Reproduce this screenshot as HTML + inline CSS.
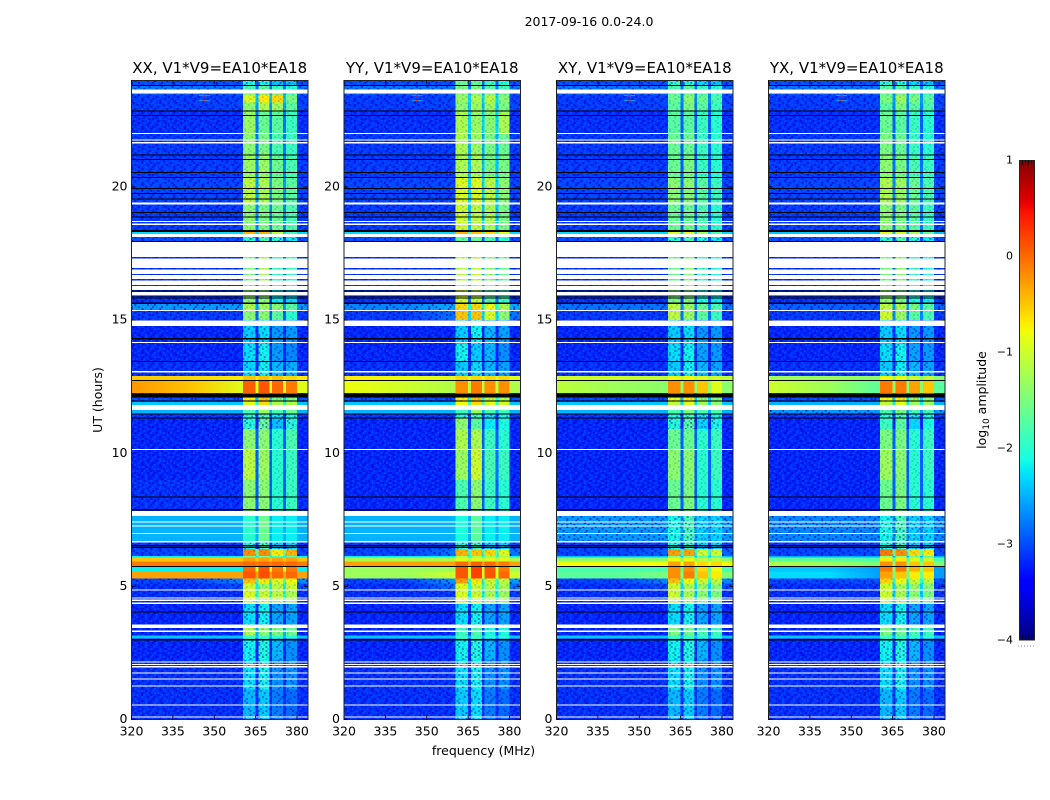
<!DOCTYPE html>
<html lang="en">
<head>
<meta charset="utf-8">
<title>2017-09-16 0.0-24.0</title>
<style>
html,body{margin:0;padding:0;background:#fff;width:1050px;height:800px;overflow:hidden}
svg{display:block}
text{font-family:"DejaVu Sans","Liberation Sans",sans-serif;fill:#000}
</style>
</head>
<body>
<svg id="chart" width="1050" height="800" viewBox="0 0 1050 800" xmlns="http://www.w3.org/2000/svg">
<defs id="chart-defs"><pattern id="speckle" patternUnits="userSpaceOnUse" x="0" y="0" width="42.48" height="28"></pattern></defs>
<text x="589" y="26" font-size="12.5" text-anchor="middle">2017-09-16 0.0-24.0</text>
<text x="483.5" y="755" font-size="12.5" text-anchor="middle">frequency (MHz)</text>
<text x="102" y="400" font-size="12.5" text-anchor="middle" transform="rotate(-90 102 400)">UT (hours)</text>
<text x="986" y="400" font-size="12.5" text-anchor="middle" transform="rotate(-90 986 400)">log<tspan font-size="9" dy="3">10</tspan><tspan dy="-3"> amplitude</tspan></text>
</svg>
<script>
// Axis ticks and labels
const freqTicks = [320, 335, 350, 365, 380];
const utTicks = [0, 5, 10, 15, 20];
const colorTicks = [1, 0, -1, -2, -3, -4];
const colorMinorOffsets = [3, 6, 9, 12];
const panelTitles = ['XX, V1*V9=EA10*EA18', 'YY, V1*V9=EA10*EA18', 'XY, V1*V9=EA10*EA18', 'YX, V1*V9=EA10*EA18'];
const panelIds = ['xx', 'yy', 'xy', 'yx'];

// Frequency layout in MHz: three background spans, four sub-bands, tail
const bgEdges = [320, 335, 350, 360.5];
const subBands = [[360.5, 365], [366, 370], [371, 375], [376, 380]];
const freqMax = 384;

// UT row edges in hours, from the top of the plot downward
const utEdges = [24,23.81,23.48,23.18,22.84,22.01,21.19,20.36,19.39,18.34,18.19,17.96,16.13,15.6,15.34,15,14.1,13.43,12.9,12.71,12.26,11.93,11.81,11.48,11.33,10.91,10.13,9,7.84,6.71,6.41,6.15,6.08,5.93,5.74,5.55,5.29,5.1,4.88,4.35,3.56,3.15,3.04,2.25,1.13,0];

// Flagged time ranges in hours
const whiteBands = [[23.67,23.51],[22.03,21.99],[21.79,21.75],[21.69,21.64],[19.41,19.35],[18.72,18.68],[18.62,18.57],[18.23,18.12],[17.94,17.37],[17.31,16.95],[16.9,16.74],[16.69,16.54],[16.48,16.31],[16.28,16.13],[16.06,15.91],[15.38,15.34],[14.99,14.78],[14.18,14.14],[13.08,13.03],[11.81,11.63],[10.16,10.13],[7.84,7.65],[7.43,7.39],[7.28,7.24],[7.01,6.98],[6.71,6.65],[4.88,4.84],[4.58,4.54],[4.5,4.45],[4.39,4.34],[3.56,3.43],[3.34,3.29],[2.18,2.14],[2.08,2.04],[2.01,1.95],[1.76,1.73],[1.54,1.5],[1.28,1.24],[0.56,0.53],[0.11,0.08]];
const blackBands = [[23.83,23.79],[22.87,22.83],[22.71,22.67],[21.22,21.18],[21.06,21.02],[20.56,20.52],[20.38,20.34],[19.97,19.93],[19.78,19.74],[19.57,19.53],[19.07,19.03],[18.89,18.85],[18.38,18.31],[17.98,17.94],[16.12,16.08],[15.92,15.88],[15.85,15.81],[15.67,15.6],[14.32,14.28],[13.46,13.42],[12.76,12.72],[12.25,12.1],[11.98,11.94],[11.5,11.46],[11.35,11.31],[8.37,8.33],[7.9,7.85],[6.55,6.51],[6.49,6.45],[5.77,5.73],[4.06,4.02],[3.03,2.96]];

// Narrow interference features: [MHz, UT hours, peak level]
const rfiSpikes = [[346.5, 23.45, 0.4], [346.5, 23.27, 0.4]];

// log10 amplitude per UT row: [bg 320-335, bg 335-350, bg 350-360, band1, band2, band3, band4]
const xxLevels = [
[-3,-3,-3,-2.1,-2.1,-2.4,-2.4],[-2.8,-2.8,-2.8,-1.8,-1.7,-1.9,-2],[-3.1,-3.1,-3.05,-0.9,-0.7,-0.6,-1.5],[-3.1,-3.1,-3.05,-1.4,-1.2,-1.3,-1.7],
[-3.15,-3.15,-3.15,-1.3,-1.6,-1.7,-1.9],[-3.1,-3.1,-3.1,-1.4,-1.5,-1.8,-1.9],[-3.1,-3.1,-3.1,-1.3,-1.3,-1.6,-1.8],[-3.05,-3.05,-3.05,-1.1,-1.2,-1.5,-1.7],
[-3.1,-3.1,-3.1,-1.4,-1.5,-1.6,-1.8],[-2.3,-2.3,-2.3,-0.4,-0.4,-1.1,-1.9],[-3,-3,-3,-2,-1.8,-2,-2.2],[-3.15,-3.15,-3.15,-1.5,-1.2,-1.9,-1.9],
[-3.15,-3.15,-3.15,-1.4,-1.4,-2.2,-2.3],[-2.6,-2.6,-2.6,-1.2,-1.3,-1.4,-1.7],[-3.1,-3.1,-3.1,-1.4,-1.4,-1.7,-2],[-3.2,-3.2,-3.2,-2.35,-2.25,-2.6,-2.6],
[-3.2,-3.2,-3.2,-2.25,-2.15,-2.6,-2.7],[-3.15,-3.15,-3.15,-2.3,-2.15,-2.45,-2.5],[-0.5,-0.6,-0.7,-0.5,-0.5,-0.5,-0.6],[-0.25,-0.5,-0.9,0.05,0.1,0,-0.1],
[-3,-3,-3,-0.7,-0.5,-1.5,-1.5],[-2.4,-2.4,-2.4,-0.9,-0.6,-1.2,-1.2],[-2.5,-2.5,-2.5,-1.8,-1.3,-1.8,-1.6],[-3.1,-3.1,-3.1,-2,-1.8,-2.2,-2.1],
[-3.2,-3.2,-3.2,-2,-1.6,-2.4,-2],[-3.2,-3.2,-3.2,-1.4,-1.4,-2,-1.8],[-3.2,-3.2,-3.2,-1.1,-1.3,-2,-1.9],[-3.15,-3.15,-3.15,-1.4,-1.4,-2,-1.9],
[-2.5,-2.5,-2.5,-2,-1.6,-2.2,-2.2],[-3.1,-3.1,-3.1,-2.1,-1.8,-2.3,-2.3],[-3.05,-3.05,-3.05,-0.2,-0.2,-0.7,-0.4],[-2.2,-2.2,-2.2,-1.6,-1.6,-1.8,-1.8],
[-0.5,-0.5,-0.5,-0.3,-0.3,-0.3,-0.3],[-0.1,-0.1,-0.1,0,0,0,0],[-2.2,-2.2,-2.2,0,0.1,-0.1,-0.1],[-0.3,-0.3,-0.3,0.1,0.15,0,0],
[-3.05,-3.05,-2.7,-0.5,-0.7,-0.9,-0.8],[-3.15,-3.15,-3,-1,-1.3,-1.1,-1],[-3.15,-3.15,-3.15,-0.9,-1,-1.1,-1.2],[-3.2,-3.2,-3.2,-2.25,-2.15,-2.55,-2.55],
[-3.2,-3.2,-3.2,-1.2,-1.4,-1.5,-1.6],[-2.4,-2.4,-2.4,-1.9,-1.9,-2,-2],[-3.2,-3.2,-3.2,-2.15,-2.05,-2.45,-2.65],[-3.15,-3.15,-3.15,-2.25,-2.15,-2.65,-2.65],
[-3.15,-3.15,-3.15,-2.45,-2.35,-2.75,-2.85]];
const yyLevels = [
[-3,-3,-3,-1.6,-1.6,-1.9,-2],[-2.8,-2.8,-2.8,-1.5,-1.5,-1.7,-1.8],[-3.1,-3.1,-3.05,-1.3,-1.2,-1.1,-1.4],[-3.1,-3.1,-3.05,-1.4,-1.3,-1.3,-1.5],
[-3.15,-3.15,-3.15,-1.2,-1.3,-1.4,-1.2],[-3.1,-3.1,-3.1,-1.2,-1.3,-1.5,-1.6],[-3.1,-3.1,-3.1,-1.2,-1.2,-1.5,-1.5],[-3.05,-3.05,-3.05,-0.9,-0.9,-1.1,-1.4],
[-3.1,-3.1,-3.1,-1,-1.1,-1.2,-1.5],[-2.3,-2.3,-2.3,-0.4,-0.5,-0.6,-0.9],[-3,-3,-3,-1.7,-1.6,-1.8,-2],[-3.15,-3.15,-3.15,-1.1,-1,-1.4,-1.6],
[-3.15,-3.15,-3.15,-1,-1.1,-1.7,-1.9],[-2.7,-2.7,-2.5,-0.6,-0.6,-0.8,-1.2],[-3.1,-3.1,-2.8,-0.5,-0.5,-0.9,-1.4],[-3.2,-3.2,-3.2,-2.35,-2.15,-2.45,-2.55],
[-3.2,-3.2,-3.2,-2.15,-2.35,-2.45,-2.65],[-3.15,-3.15,-3.15,-2.35,-2.25,-2.45,-2.55],[-0.7,-0.8,-0.9,-0.6,-0.6,-0.6,-0.6],[-0.8,-1,-1.2,-0.2,-0.1,-0.2,-0.2],
[-3,-3,-3,-0.7,-0.5,-1,-1.2],[-2.4,-2.4,-2.4,-0.8,-0.6,-0.9,-1],[-2.5,-2.5,-2.5,-1.9,-1.3,-1.8,-1.9],[-3.1,-3.1,-3.1,-2,-1.8,-2.2,-2.1],
[-3.2,-3.2,-3.2,-1.4,-1.7,-2.2,-2.1],[-3.2,-3.2,-3.2,-1.2,-1.2,-1.9,-2],[-3.2,-3.2,-3.2,-1.3,-1,-1.8,-1.9],[-3.2,-3.2,-3.2,-1.8,-1.4,-1.9,-2],
[-2.5,-2.5,-2.5,-2.1,-1.7,-2.2,-2.2],[-3.1,-3.1,-3,-2,-1.9,-2.3,-2.3],[-3.05,-3.05,-2.8,-0.4,-0.5,-0.6,-0.9],[-2.2,-2.2,-2.2,-1.2,-1.2,-1.2,-1.2],
[-1.2,-1.2,-1.2,-0.9,-0.9,-0.9,-0.9],[-0.3,-0.3,-0.3,0,0.05,0,-0.1],[-1.3,-1.3,-1.3,0.1,0.2,0.1,-0.1],[-1.3,-1.3,-1,0.1,0.2,0.1,0],
[-3.05,-3.05,-2.6,-0.3,-0.7,-1,-1.1],[-3.15,-3.15,-2.8,-0.9,-1,-1.1,-1.2],[-3.15,-3.15,-3.1,-0.9,-1,-1.2,-1.3],[-3.2,-3.2,-3.2,-2.25,-2.15,-2.55,-2.55],
[-3.2,-3.2,-3.2,-1.9,-1.8,-2.1,-2.1],[-2.4,-2.4,-2.4,-1.9,-1.9,-2,-2],[-3.2,-3.2,-3.2,-2.15,-2.05,-2.45,-2.65],[-3.15,-3.15,-3.15,-2.25,-2.15,-2.65,-2.65],
[-3.15,-3.15,-3.15,-2.35,-2.25,-2.75,-2.85]];
const xyLevels = [
[-3,-3,-3,-2,-2,-2.3,-2.4],[-2.8,-2.8,-2.8,-1.8,-1.7,-1.9,-2],[-3.1,-3.1,-3.05,-1.6,-1.4,-1.6,-1.8],[-3.1,-3.1,-3.05,-1.7,-1.5,-1.7,-1.9],
[-3.15,-3.15,-3.15,-1.7,-1.7,-1.9,-2],[-3.1,-3.1,-3.1,-1.6,-1.6,-1.9,-2],[-3.1,-3.1,-3.1,-1.6,-1.5,-1.9,-2],[-3.05,-3.05,-3.05,-1.4,-1.4,-1.7,-1.9],
[-3.1,-3.1,-3.1,-1.6,-1.6,-1.8,-2],[-2.3,-2.3,-2.3,-0.9,-0.9,-1.3,-1.8],[-3,-3,-3,-2,-1.8,-2.1,-2.2],[-3.15,-3.15,-3.15,-1.6,-1.4,-1.9,-2],
[-3.15,-3.15,-3.15,-1.5,-1.5,-2.1,-2.2],[-2.8,-2.8,-2.8,-1.1,-1.3,-1.6,-1.8],[-3.1,-3.1,-3.1,-1.1,-1.3,-1.7,-1.9],[-3.2,-3.2,-3.2,-2.35,-2.25,-2.6,-2.6],
[-3.2,-3.2,-3.2,-2.25,-2.15,-2.55,-2.6],[-3.15,-3.15,-3.15,-2.35,-2.15,-2.45,-2.55],[-1,-1,-1.1,-0.8,-0.8,-0.9,-1],[-1.1,-1.3,-1.4,-0.2,-0.2,-0.5,-0.9],
[-3,-3,-3,-0.9,-0.7,-1.4,-1.5],[-2.4,-2.4,-2.4,-1.1,-0.9,-1.3,-1.4],[-2.5,-2.5,-2.5,-1.8,-1.5,-1.8,-1.8],[-3.1,-3.1,-3.1,-2,-1.8,-2.2,-2.1],
[-3.2,-3.2,-3.2,-2,-1.7,-2.3,-2.1],[-3.2,-3.2,-3.2,-1.6,-1.6,-2,-1.9],[-3.2,-3.2,-3.2,-1.4,-1.4,-2,-1.9],[-3.2,-3.2,-3.2,-1.6,-1.5,-2,-2],
[-2.6,-2.6,-2.6,-2.1,-1.8,-2.3,-2.3],[-3.1,-3.1,-3.05,-2.1,-1.9,-2.3,-2.3],[-3.05,-3.05,-2.9,-0.3,-0.3,-1,-1],[-2.4,-2.4,-2.4,-1.5,-1.5,-1.7,-1.8],
[-1.4,-1.4,-1.4,-0.8,-0.8,-1.1,-1.1],[-0.8,-0.8,-0.8,-0.3,-0.3,-0.6,-0.6],[-1.8,-1.8,-1.8,-0.2,-0.2,-0.6,-0.8],[-1.7,-1.7,-1.5,-0.2,-0.1,-0.5,-0.7],
[-3.05,-3.05,-2.7,-0.5,-0.8,-1,-1.1],[-3.15,-3.15,-3,-1,-1.2,-1.3,-1.4],[-3.15,-3.15,-3.15,-1,-1.2,-1.4,-1.5],[-3.2,-3.2,-3.2,-2.25,-2.15,-2.55,-2.55],
[-3.2,-3.2,-3.2,-1.5,-1.6,-1.8,-1.9],[-2.4,-2.4,-2.4,-1.9,-1.9,-2,-2],[-3.2,-3.2,-3.2,-2.15,-2.05,-2.45,-2.65],[-3.15,-3.15,-3.15,-2.25,-2.15,-2.65,-2.65],
[-3.15,-3.15,-3.15,-2.45,-2.35,-2.75,-2.85]];
const yxLevels = [
[-3,-3,-3,-2,-2,-2.3,-2.4],[-2.8,-2.8,-2.8,-1.7,-1.7,-1.9,-2],[-3.1,-3.1,-3.05,-1.5,-1.3,-1.5,-1.7],[-3.1,-3.1,-3.05,-1.7,-1.5,-1.7,-1.8],
[-3.15,-3.15,-3.15,-1.6,-1.7,-1.9,-2],[-3.1,-3.1,-3.1,-1.5,-1.6,-1.9,-2],[-3.1,-3.1,-3.1,-1.4,-1.5,-1.8,-1.9],[-3.05,-3.05,-3.05,-1.2,-1.3,-1.6,-1.8],
[-3.1,-3.1,-3.1,-1.4,-1.5,-1.7,-1.9],[-2.4,-2.4,-2.4,-0.9,-1,-1.2,-1.7],[-3,-3,-3,-2,-1.8,-2,-2.2],[-3.15,-3.15,-3.15,-1.5,-1.4,-1.9,-2],
[-3.15,-3.15,-3.15,-1.4,-1.5,-2.1,-2.2],[-2.9,-2.9,-2.9,-1.1,-1.2,-1.5,-1.7],[-3.1,-3.1,-3.1,-1,-1.3,-1.7,-1.8],[-3.2,-3.2,-3.2,-2.35,-2.25,-2.6,-2.6],
[-3.2,-3.2,-3.2,-2.25,-2.15,-2.55,-2.6],[-3.15,-3.15,-3.15,-2.35,-2.15,-2.45,-2.55],[-1.3,-1.3,-1.4,-0.8,-0.8,-1,-1.1],[-1,-1.3,-1.7,-0.1,-0.1,-0.3,-0.5],
[-3,-3,-3,-0.8,-0.7,-1.3,-1.4],[-2.5,-2.5,-2.5,-1.1,-0.9,-1.3,-1.3],[-2.6,-2.6,-2.6,-1.8,-1.5,-1.8,-1.8],[-3.1,-3.1,-3.1,-2,-1.8,-2.2,-2.1],
[-3.2,-3.2,-3.2,-1.9,-1.7,-2.3,-2.1],[-3.2,-3.2,-3.2,-1.5,-1.5,-2,-1.9],[-3.2,-3.2,-3.2,-1.3,-1.4,-2,-1.9],[-3.2,-3.2,-3.2,-1.6,-1.5,-2,-2],
[-2.7,-2.7,-2.7,-2.1,-1.8,-2.3,-2.3],[-3.1,-3.1,-3.05,-2.1,-1.9,-2.3,-2.3],[-3.05,-3.05,-3,-0.1,-0.2,-0.6,-0.7],[-2.5,-2.5,-2.5,-1.4,-1.4,-1.6,-1.7],
[-1.7,-1.7,-1.8,-0.7,-0.7,-0.9,-1],[-1.2,-1.3,-1.5,-0.2,-0.2,-0.5,-0.5],[-2.4,-2.4,-2.6,-0.1,-0.1,-0.4,-0.5],[-2.3,-2.3,-2.6,-0.3,-0.5,-0.7,-0.7],
[-3.05,-3.05,-3,-0.6,-0.8,-1,-1.1],[-3.15,-3.15,-3.1,-1,-1.2,-1.3,-1.4],[-3.15,-3.15,-3.15,-1,-1.2,-1.4,-1.5],[-3.2,-3.2,-3.2,-2.25,-2.15,-2.55,-2.55],
[-3.2,-3.2,-3.2,-1.5,-1.6,-1.8,-1.9],[-2.4,-2.4,-2.4,-1.9,-1.9,-2,-2],[-3.2,-3.2,-3.2,-2.15,-2.05,-2.45,-2.65],[-3.15,-3.15,-3.15,-2.25,-2.15,-2.65,-2.65],
[-3.15,-3.15,-3.15,-2.45,-2.35,-2.75,-2.85]];
const panelLevels = [xxLevels, yyLevels, xyLevels, yxLevels];

// Hand-placed grain: + bright speck, - dark speck, . none
const speckleRows = [
"+.-..+..-.+..-..+.-...+.",
".-.+..-...+.-..+...-.+..",
"..+.-..+.-...+..-.+..-.+",
"-...+.-...+.-.-...+..+..",
".+.-...+-..+...+.-..-..+",
"..-.+.-..+..-.+...+..-..",
"+...-..+...-.+..-.+.+..-",
".-+...+.-.+...-..+...-+.",
"..-.+...-..+.-.+..-.+...",
"+..-..+.+.-...+...-..+.-",
".+...-..-..+-..+.+..-...",
"-..+.+..-+...-...-.+..+.",
".+..-...+..-.+.-..+...-.",
"..-.+.-...+...-.+..-.+.."];

const SVGNS = 'http://www.w3.org/2000/svg';
const svg = document.getElementById('chart');
const defs = document.getElementById('chart-defs');
const plotLefts = [131.5, 344, 556.5, 768.5];
const plotW = 176.5, plotTop = 80.5, plotBottom = 719.5;

function xScale(mhz, left) { return left + (mhz - 320) / (freqMax - 320) * plotW; }
function yScale(h) { return plotBottom - h / 24 * (plotBottom - plotTop); }
function cbScale(v) { return 160 + (1 - v) / 5 * 480; }

function ramp(t, pts) {
  for (let i = 1; i < pts.length; i++) {
    if (t <= pts[i][0]) {
      const a = pts[i - 1], b = pts[i];
      return a[1] + (b[1] - a[1]) * (t - a[0]) / (b[0] - a[0]);
    }
  }
  return pts[pts.length - 1][1];
}
function jet(v) {
  const t = Math.max(0, Math.min(1, (v + 4) / 5));
  const r = ramp(t, [[0, 0], [0.35, 0], [0.66, 1], [0.89, 1], [1, 0.5]]);
  const g = ramp(t, [[0, 0], [0.125, 0], [0.375, 1], [0.64, 1], [0.91, 0], [1, 0]]);
  const b = ramp(t, [[0, 0.5], [0.11, 1], [0.34, 1], [0.65, 0], [1, 0]]);
  return 'rgb(' + Math.round(r * 255) + ',' + Math.round(g * 255) + ',' + Math.round(b * 255) + ')';
}
function mk(tag, attrs, parent) {
  const el = document.createElementNS(SVGNS, tag);
  for (const k in attrs) el.setAttribute(k, attrs[k]);
  parent.appendChild(el);
  return el;
}

// Build the grain tile
const tile = document.getElementById('speckle');
speckleRows.forEach(function (row, ry) {
  row.split('').forEach(function (ch, cx) {
    if (ch === '.') return;
    const grain = mk('rect', { x: cx * 1.77, y: ry * 2, width: 1.77, height: 2, fill: ch === '+' ? '#0070ff' : '#0000c0', 'fill-opacity': ch === '+' ? 0.4 : 0.65 }, tile);
    
    
  });
});

panelIds.forEach(function (id, p) {
  const left = plotLefts[p];
  const levels = panelLevels[p];
  const g = mk('g', {}, svg);
  
  
  const cells = mk('g', { 'shape-rendering': 'crispEdges' }, g);
  
  

  levels.forEach(function (row, r) {
    const y0 = yScale(utEdges[r]), y1 = yScale(utEdges[r + 1]);
    const bx0 = xScale(bgEdges[0], left), bx3 = xScale(bgEdges[3], left);

    // Background span: smooth across the three background readings
    let bgFill = jet(row[0]);
    if (row[0] !== row[1] || row[1] !== row[2]) {
      const gradId = 'bg-' + id + '-' + r;
      const grad = mk('linearGradient', { id: gradId, x1: 0, x2: 1, y1: 0, y2: 0 }, defs);
      
      
      for (let i = 0; i < 3; i++) {
        const mid = (bgEdges[i] + bgEdges[i + 1]) / 2;
        const off = (mid - bgEdges[0]) / (bgEdges[3] - bgEdges[0]);
        const stop = mk('stop', { offset: i === 0 ? 0 : (i === 2 ? 1 : off), 'stop-color': jet(row[i]) }, grad);
        
        
      }
      bgFill = 'url(#' + gradId + ')';
    }
    const bgCell = mk('rect', { x: bx0, y: y0, width: bx3 - bx0, height: y1 - y0, fill: bgFill }, cells);
    
    

    const spans = [];
    const bandFloor = Math.min(row[3], row[4], row[5], row[6]) - 0.9;
    subBands.forEach(function (b, i) {
      spans.push([b[0], b[1], row[3 + i]]);
      const next = subBands[i + 1];
      if (next) spans.push([b[1], next[0], Math.max(bandFloor, row[2])]);
    });
    spans.push([subBands[3][1], freqMax, row[2]]);
    spans.forEach(function (s) {
      const x0 = xScale(s[0], left), x1 = xScale(s[1], left);
      const cell = mk('rect', { x: x0, y: y0, width: x1 - x0, height: y1 - y0, fill: jet(s[2]) }, cells);
      
      
    });
    if (row[0] < -2.5) {
      const grainBg = mk('rect', { x: left, y: y0, width: bx3 - left, height: y1 - y0, fill: 'url(#speckle)' }, cells);
      
      
      const tx = xScale(subBands[3][1], left);
      const grainTail = mk('rect', { x: tx, y: y0, width: left + plotW - tx, height: y1 - y0, fill: 'url(#speckle)' }, cells);
      
      
      const faint = row[3] < -1.9;
      const grainBands = mk('rect', { x: bx3, y: y0, width: tx - bx3, height: y1 - y0, fill: 'url(#speckle)', opacity: faint ? 0.75 : 0.25 }, cells);
      
      
    }
  });

  rfiSpikes.forEach(function (s) {
    const y = yScale(s[1]);
    const streak = mk('rect', { x: xScale(s[0] - 2, left), y: y, width: xScale(4, 0) - xScale(0, 0), height: 1, fill: jet(-2.6) }, cells);
    
    
    const peak = mk('rect', { x: xScale(s[0] - 0.4, left), y: y, width: 2, height: 1.5, fill: jet(s[2]) }, cells);
    
    
  });

  whiteBands.forEach(function (b) {
    const y0 = yScale(b[0]), y1 = yScale(b[1]);
    const band = mk('rect', { x: left, y: y0, width: plotW, height: Math.max(1, y1 - y0), fill: '#fff' }, cells);
    
    
  });
  blackBands.forEach(function (b) {
    const y0 = yScale(b[0]), y1 = yScale(b[1]);
    const band = mk('rect', { x: left, y: y0, width: plotW, height: Math.max(1, y1 - y0), fill: '#000' }, cells);
    
    
  });

  const frame = mk('rect', { x: left, y: plotTop, width: plotW, height: plotBottom - plotTop, fill: 'none', stroke: '#222', 'stroke-width': 1 }, g);
  
  

  const title = mk('text', { x: left + plotW / 2, y: 73, 'font-size': 15, 'text-anchor': 'middle' }, g);
  title.textContent = panelTitles[p];
  
  

  freqTicks.forEach(function (f) {
    const x = xScale(f, left);
    const t1 = mk('line', { x1: x, x2: x, y1: plotBottom, y2: plotBottom - 4, stroke: '#000', 'stroke-width': 0.8 }, g);
    
    
    const t2 = mk('line', { x1: x, x2: x, y1: plotTop, y2: plotTop + 4, stroke: '#000', 'stroke-width': 0.8 }, g);
    
    
    const lab = mk('text', { x: x, y: 735.5, 'font-size': 12.5, 'text-anchor': 'middle' }, g);
    lab.textContent = f;
    
    
  });
  utTicks.forEach(function (h) {
    const y = yScale(h);
    const t1 = mk('line', { x1: left, x2: left + 4, y1: y, y2: y, stroke: '#000', 'stroke-width': 0.8 }, g);
    
    
    const t2 = mk('line', { x1: left + plotW, x2: left + plotW - 4, y1: y, y2: y, stroke: '#000', 'stroke-width': 0.8 }, g);
    
    
    if (p < 3) {
      const lab = mk('text', { x: left - 4, y: y + 3.5, 'font-size': 12.5, 'text-anchor': 'end' }, g);
      lab.textContent = h;
      
      
    }
  });
});

// Colorbar
const cb = mk('g', {}, svg);


const cbSteps = mk('g', { 'shape-rendering': 'crispEdges' }, cb);


for (let py = 160; py < 640; py += 2) {
  const v = 1 - (py + 1 - 160) / 480 * 5;
  const step = mk('rect', { x: 1019.5, y: py, width: 15, height: 2, fill: jet(v) }, cbSteps);
  
  
}
const cbFrame = mk('rect', { x: 1019.5, y: 160.5, width: 15, height: 479.5, fill: 'none', stroke: '#222', 'stroke-width': 1 }, cb);


colorTicks.forEach(function (v) {
  const y = cbScale(v);
  const lab = mk('text', { x: 1013, y: y + 3.5, 'font-size': 11, 'text-anchor': 'end' }, cb);
  lab.textContent = String(v).replace('-', '\u2212');
  
  
});
colorMinorOffsets.forEach(function (dx) {
  const top = mk('line', { x1: 1019.5 + dx, x2: 1019.5 + dx, y1: 160.5, y2: 165, stroke: '#000', 'stroke-width': 0.7 }, cb);
  
  
  const bottom = mk('line', { x1: 1019.5 + dx, x2: 1019.5 + dx, y1: 640, y2: 635.5, stroke: '#000', 'stroke-width': 0.7 }, cb);
  
  
});
const dots = mk('line', { x1: 1018, x2: 1035, y1: 646, y2: 646, stroke: '#888', 'stroke-width': 1, 'stroke-dasharray': '1 2' }, cb);


</script>
</body>
</html>
